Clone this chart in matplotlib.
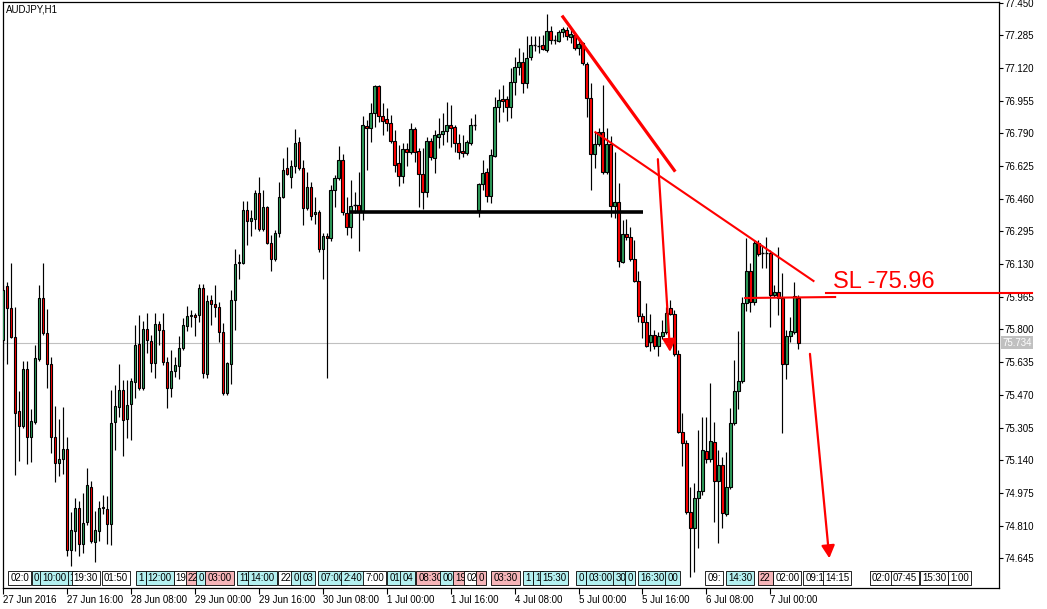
import matplotlib
matplotlib.use('Agg')
import matplotlib.pyplot as plt
import matplotlib.transforms as mtransforms
import numpy as np

plt.rcParams['font.family'] = ['Liberation Sans', 'DejaVu Sans']

# ---------------- data: AUDJPY H1 candles (bar index 0 = 27 Jun 2016 00:00) ----------------
opens = [75.747, 76.020, 75.909, 75.762, 75.388, 75.313, 75.601, 75.257, 75.333, 75.651,
         75.959, 75.782, 75.626, 75.257, 75.126, 75.146, 75.197, 74.686, 74.782, 74.899,
         74.717, 74.828, 75.005, 74.727, 74.782, 74.899, 74.894, 74.818, 75.333, 75.409,
         75.494, 75.348, 75.424, 75.535, 75.727, 75.505, 75.803, 75.742, 75.631, 75.828,
         75.797, 75.636, 75.505, 75.590, 75.616, 75.707, 75.818, 75.870, 75.873, 75.873,
         76.010, 75.575, 75.949, 75.929, 75.914, 75.787, 75.479, 75.626, 75.949, 76.136,
         76.136, 76.404, 76.348, 76.358, 76.489, 76.308, 76.419, 76.237, 76.156, 76.287,
         76.469, 76.616, 76.570, 76.626, 76.747, 76.616, 76.414, 76.520, 76.383, 76.393,
         76.207, 76.272, 76.262, 76.505, 76.565, 76.656, 76.388, 76.318, 76.424, 76.429,
         76.393, 76.828, 76.818, 76.893, 77.030, 76.878, 76.863, 76.843, 76.752, 76.641,
         76.575, 76.712, 76.696, 76.813, 76.701, 76.585, 76.494, 76.752, 76.666, 76.772,
         76.787, 76.802, 76.833, 76.823, 76.742, 76.701, 76.691, 76.742, 76.828, 76.404,
         76.535, 76.595, 76.474, 76.676, 76.924, 76.964, 76.964, 76.924, 77.050, 77.126,
         77.151, 77.045, 77.176, 77.232, 77.234, 77.237, 77.211, 77.307, 77.262, 77.257,
         77.302, 77.312, 77.277, 77.287, 77.222, 77.247, 77.141, 76.969, 76.686, 76.737,
         76.797, 76.595, 76.737, 76.424, 76.444, 76.141, 76.282, 76.267, 76.156, 76.045,
         75.868, 75.838, 75.737, 75.772, 75.717, 75.767, 75.787, 75.909, 75.878, 75.676,
         75.282, 75.227, 74.878, 74.798, 74.949, 74.984, 75.186, 75.146, 75.232, 75.035,
         75.116, 74.868, 75.005, 75.328, 75.489, 75.540, 75.934, 76.095, 75.939, 76.237,
         76.186, 76.184, 76.186, 75.974, 75.989, 75.959, 75.626, 75.767, 75.787, 75.959]
highs = [76.025, 76.040, 76.136, 75.914, 75.489, 75.641, 75.641, 75.399, 75.722, 76.025,
         76.136, 75.904, 75.661, 75.414, 75.348, 75.409, 75.257, 74.878, 74.949, 74.934,
         74.974, 75.101, 75.035, 74.883, 74.934, 74.964, 74.959, 75.494, 75.520, 75.626,
         75.545, 75.545, 75.555, 75.823, 75.873, 75.843, 75.883, 75.772, 75.883, 75.843,
         75.883, 75.661, 75.696, 75.661, 75.767, 75.858, 75.919, 75.898, 75.883, 76.030,
         76.030, 75.974, 75.974, 76.025, 75.939, 75.833, 75.636, 75.999, 76.207, 76.181,
         76.449, 76.449, 76.404, 76.505, 76.570, 76.505, 76.424, 76.277, 76.302, 76.545,
         76.666, 76.722, 76.656, 76.813, 76.772, 76.656, 76.595, 76.545, 76.469, 76.404,
         76.287, 76.287, 76.530, 76.580, 76.727, 76.686, 76.469, 76.555, 76.494, 76.595,
         76.878, 76.858, 76.944, 77.035, 77.035, 76.944, 76.919, 76.883, 76.808, 76.732,
         76.742, 76.742, 76.843, 76.823, 76.717, 76.717, 76.772, 76.767, 76.808, 76.868,
         76.893, 76.949, 76.934, 76.833, 76.787, 76.782, 76.757, 76.868, 76.888, 76.540,
         76.656, 76.616, 76.712, 76.974, 77.015, 77.035, 76.979, 77.121, 77.176, 77.222,
         77.201, 77.282, 77.282, 77.282, 77.282, 77.287, 77.393, 77.333, 77.287, 77.312,
         77.328, 77.328, 77.323, 77.297, 77.272, 77.252, 77.151, 77.045, 76.797, 76.818,
         77.035, 76.818, 76.777, 76.696, 76.540, 76.353, 76.358, 76.318, 76.252, 76.095,
         75.883, 75.934, 75.878, 75.797, 75.787, 75.848, 75.914, 75.949, 75.898, 75.696,
         75.378, 75.242, 75.005, 75.025, 75.292, 75.358, 75.358, 75.530, 75.333, 75.191,
         75.156, 75.181, 75.404, 75.646, 75.792, 75.964, 76.262, 76.136, 76.252, 76.252,
         76.227, 76.267, 76.202, 76.025, 76.217, 76.085, 75.797, 75.863, 76.040, 75.974]
lows = [75.646, 75.626, 75.757, 75.065, 75.136, 75.303, 75.121, 75.131, 75.323, 75.641,
        75.772, 75.505, 75.176, 75.030, 75.060, 75.070, 74.656, 74.606, 74.681, 74.656,
        74.671, 74.813, 74.722, 74.626, 74.732, 74.868, 74.717, 74.712, 75.191, 75.358,
        75.161, 75.252, 75.242, 75.454, 75.494, 75.494, 75.681, 75.585, 75.555, 75.722,
        75.621, 75.404, 75.459, 75.560, 75.550, 75.696, 75.792, 75.813, 75.767, 75.838,
        75.555, 75.555, 75.823, 75.863, 75.737, 75.469, 75.469, 75.525, 75.797, 76.055,
        76.131, 76.227, 76.272, 76.308, 76.297, 76.297, 76.232, 76.095, 76.146, 76.267,
        76.464, 76.580, 76.515, 76.590, 76.606, 76.328, 76.404, 76.353, 76.333, 76.191,
        76.055, 75.555, 76.247, 76.419, 76.555, 76.378, 76.277, 76.262, 76.388, 76.196,
        76.353, 76.606, 76.747, 76.823, 76.848, 76.782, 76.802, 76.742, 76.595, 76.525,
        76.540, 76.626, 76.686, 76.646, 76.419, 76.409, 76.469, 76.656, 76.590, 76.717,
        76.732, 76.747, 76.722, 76.696, 76.661, 76.671, 76.681, 76.732, 76.808, 76.368,
        76.505, 76.444, 76.439, 76.671, 76.848, 76.898, 76.853, 76.868, 76.984, 77.085,
        76.994, 77.020, 77.161, 77.206, 77.196, 77.211, 77.201, 77.242, 77.242, 77.252,
        77.277, 77.262, 77.247, 77.211, 77.186, 77.136, 76.873, 76.505, 76.616, 76.727,
        76.585, 76.585, 76.368, 76.363, 76.116, 76.136, 76.252, 76.146, 76.040, 75.838,
        75.757, 75.712, 75.691, 75.702, 75.666, 75.752, 75.777, 75.873, 75.666, 75.277,
        75.111, 74.868, 74.550, 74.575, 74.697, 74.964, 75.126, 75.131, 74.828, 74.722,
        74.798, 74.858, 74.995, 75.318, 75.399, 75.530, 75.893, 75.888, 75.924, 76.171,
        76.111, 76.111, 75.813, 75.964, 75.873, 75.277, 75.550, 75.737, 75.777, 75.702]
closes = [75.999, 75.909, 75.762, 75.378, 75.313, 75.601, 75.257, 75.338, 75.656, 75.959,
          75.782, 75.626, 75.257, 75.126, 75.146, 75.197, 74.686, 74.787, 74.899, 74.717,
          74.823, 75.015, 74.732, 74.787, 74.899, 74.905, 74.818, 75.328, 75.414, 75.494,
          75.343, 75.419, 75.540, 75.722, 75.505, 75.803, 75.747, 75.631, 75.828, 75.797,
          75.636, 75.505, 75.590, 75.621, 75.707, 75.823, 75.868, 75.875, 75.863, 76.010,
          75.580, 75.944, 75.929, 75.914, 75.787, 75.479, 75.631, 75.949, 76.131, 76.141,
          76.404, 76.348, 76.363, 76.489, 76.308, 76.419, 76.237, 76.156, 76.287, 76.469,
          76.606, 76.585, 76.626, 76.742, 76.616, 76.414, 76.520, 76.373, 76.393, 76.207,
          76.272, 76.262, 76.505, 76.565, 76.656, 76.393, 76.318, 76.424, 76.427, 76.393,
          76.833, 76.818, 76.893, 77.030, 76.878, 76.853, 76.843, 76.752, 76.631, 76.575,
          76.712, 76.696, 76.813, 76.696, 76.585, 76.494, 76.752, 76.671, 76.782, 76.787,
          76.802, 76.833, 76.818, 76.742, 76.696, 76.691, 76.747, 76.833, 76.830, 76.535,
          76.590, 76.474, 76.681, 76.924, 76.959, 76.954, 76.924, 77.050, 77.126, 77.151,
          77.045, 77.171, 77.237, 77.234, 77.232, 77.217, 77.307, 77.262, 77.264, 77.302,
          77.318, 77.282, 77.292, 77.222, 77.242, 77.146, 76.969, 76.686, 76.737, 76.797,
          76.595, 76.737, 76.424, 76.444, 76.146, 76.282, 76.267, 76.156, 76.045, 75.868,
          75.838, 75.717, 75.772, 75.717, 75.767, 75.787, 75.883, 75.878, 75.676, 75.282,
          75.227, 74.878, 74.798, 74.949, 74.984, 75.191, 75.146, 75.237, 75.035, 75.116,
          74.873, 75.005, 75.328, 75.489, 75.540, 75.934, 76.095, 75.939, 76.237, 76.181,
          76.184, 76.186, 75.974, 75.989, 75.959, 75.626, 75.767, 75.792, 75.969, 75.734]

current_price = 75.734
ytick_values = [77.450, 77.285, 77.120, 76.955, 76.790, 76.625, 76.460, 76.295, 76.130,
                75.965, 75.800, 75.635, 75.470, 75.305, 75.140, 74.975, 74.810, 74.645]
xtick_bars = [0, 16, 32, 48, 64, 80, 96, 112, 128, 144, 160, 176, 192]
xtick_labels = ['27 Jun 2016', '27 Jun 16:00', '28 Jun 08:00', '29 Jun 00:00', '29 Jun 16:00',
                '30 Jun 08:00', '1 Jul 00:00', '1 Jul 16:00', '4 Jul 08:00', '5 Jul 00:00',
                '5 Jul 16:00', '6 Jul 08:00', '7 Jul 00:00']

# drawn objects (bar index, price)
support_level = 76.393
support_bars = (86.7, 160.2)
trend1 = [(139.85, 77.385), (168.2, 76.597)]
trend2 = [(148.0, 76.799), (203.0, 76.042)]
arrow1 = [(163.85, 76.660), (166.9, 75.687)]
arrow2 = [(201.9, 75.677), (206.75, 74.645)]
sl_seg1 = [(185.7, 75.959), (208.2, 75.964)]
sl_seg2 = [(205.9, 75.984), (257.4, 75.984)]
sl_text = 'SL -75.96'
sl_text_pos = (207.7, 76.010)

# news-event strip (bar index, text, kind)
event_bars = [1.9, 7.7, 9.9, 16.7, 17.7, 25.2, 33.9, 36.2, 43.2, 46.2, 48.9, 51.2, 59.2, 61.9,
              69.4, 72.7, 74.9, 79.4, 85.2, 90.7, 96.7, 99.9, 103.9, 109.9, 113.2, 115.9, 118.9,
              122.7, 130.7, 133.2, 134.9, 143.9, 146.4, 153.2, 156.2, 159.4, 166.2, 176.2,
              181.4, 189.4, 193.2, 200.7, 205.7, 217.4, 222.7, 229.9, 236.9]
event_texts = ['02:0', '0', '10:00', '1', '19:30', '01:50', '1', '12:00', '19', '22', '0', '03:00',
               '11', '14:00', '22', '0', '03', '07:00', '2:40', '7:00', '01', '04', '08:30', '00',
               '19', '02', '0', '03:30', '1', '1', '15:30', '0', '03:00', '30', '0', '16:30', '00',
               '09:', '14:30', '22', '02:00', '09:1', '14:15', '02:0', '07:45', '15:30', '1:00']
event_kinds = ['w', 'c', 'c', 'c', 'w', 'w', 'c', 'c', 'w', 'p', 'c', 'p',
               'c', 'c', 'w', 'c', 'c', 'c', 'c', 'w', 'c', 'c', 'p', 'c',
               'p', 'w', 'p', 'p', 'c', 'c', 'c', 'c', 'c', 'c', 'c', 'c', 'c',
               'w', 'c', 'p', 'w', 'w', 'w', 'w', 'w', 'w', 'w']

# ---------------- figure ----------------
W, H = 1047, 609
fig = plt.figure(figsize=(W / 100, H / 100), dpi=100)
fig.patch.set_facecolor('white')
ax = fig.add_axes([3 / W, 21 / H, 996 / W, 586 / H])
ax.set_facecolor('white')
ax.set_xlim(0.175, 249.2)
ax.set_ylim(74.4948, 77.4535)

o = np.array(opens); h = np.array(highs); l = np.array(lows); c = np.array(closes)
x = np.arange(len(o))

GREEN = '#2e9e5b'
RED = '#ff0000'

# current price line
ax.axhline(current_price, color='#c0c0c0', lw=0.8, zorder=1)

# wicks
ax.vlines(x, l, h, color='black', lw=0.85, zorder=2)
# bodies
body = np.abs(c - o)
is_doji = body < 0.004
colors = [GREEN if cc >= oo else RED for oo, cc in zip(o, c)]
ax.bar(x[~is_doji], body[~is_doji], bottom=np.minimum(o, c)[~is_doji], width=0.62,
       color=[col for col, d in zip(colors, is_doji) if not d], edgecolor='black',
       linewidth=0.8, zorder=3)
ax.hlines(c[is_doji], x[is_doji] - 0.45, x[is_doji] + 0.45, color='black', lw=1.0, zorder=3)

# drawings
ax.hlines(support_level, support_bars[0], support_bars[1], color='black', lw=2.6, zorder=4)
ax.plot(*zip(*trend1), color=RED, lw=2.3, zorder=5, solid_capstyle='butt')
ax.plot(*zip(*trend2), color=RED, lw=1.5, zorder=5, solid_capstyle='butt')
for arr in (arrow1, arrow2):
    ax.annotate('', xy=arr[1], xytext=arr[0],
                arrowprops=dict(arrowstyle='-|>,head_length=0.38,head_width=0.2',
                                mutation_scale=20, color=RED, lw=1.6,
                                shrinkA=0, shrinkB=0), zorder=5)
ax.plot(*zip(*sl_seg1), color=RED, lw=1.5, zorder=5)
ax.plot(*zip(*sl_seg2), color=RED, lw=1.5, zorder=5, clip_on=False)
ax.text(sl_text_pos[0], sl_text_pos[1], sl_text, color=RED, fontsize=17,
        ha='left', va='baseline', zorder=6)

# title
ax.text(0.003, 0.988, 'AUDJPY,H1', transform=ax.transAxes, fontsize=7,
        ha='left', va='center', color='black')

# event strip
kind_col = {'w': 'white', 'c': '#b4f0f0', 'p': '#f5b4b8'}
trans_ev = mtransforms.blended_transform_factory(ax.transData, ax.transAxes)
for b, t, k in zip(event_bars, event_texts, event_kinds):
    ax.text(b, 0.0175, t, transform=trans_ev, fontsize=7, ha='left', va='center',
            bbox=dict(boxstyle='square,pad=0.22', fc=kind_col[k], ec='black', lw=0.6),
            zorder=7, clip_on=True)

# axes styling
for s in ax.spines.values():
    s.set_color('black')
    s.set_linewidth(0.9)
ax.yaxis.tick_right()
ax.set_yticks(ytick_values)
ax.set_yticklabels([f'{v:.3f}' for v in ytick_values])
ax.tick_params(axis='y', direction='out', length=3, width=0.8, pad=1, labelsize=7)
ax.set_xticks(xtick_bars)
ax.set_xticklabels(xtick_labels)
ax.tick_params(axis='x', direction='out', length=4, width=0.8, pad=1, labelsize=7)
for lab in ax.get_xticklabels():
    lab.set_horizontalalignment('left')

# current price tag
trans_p = mtransforms.blended_transform_factory(ax.transAxes, ax.transData)
ax.text(1.0035, current_price, '75.734', transform=trans_p, fontsize=7, color='white',
        ha='left', va='center',
        bbox=dict(boxstyle='square,pad=0.12', fc='#c0c0c0', ec='none'), zorder=8, clip_on=False)

fig.savefig('out.png', dpi=100)
